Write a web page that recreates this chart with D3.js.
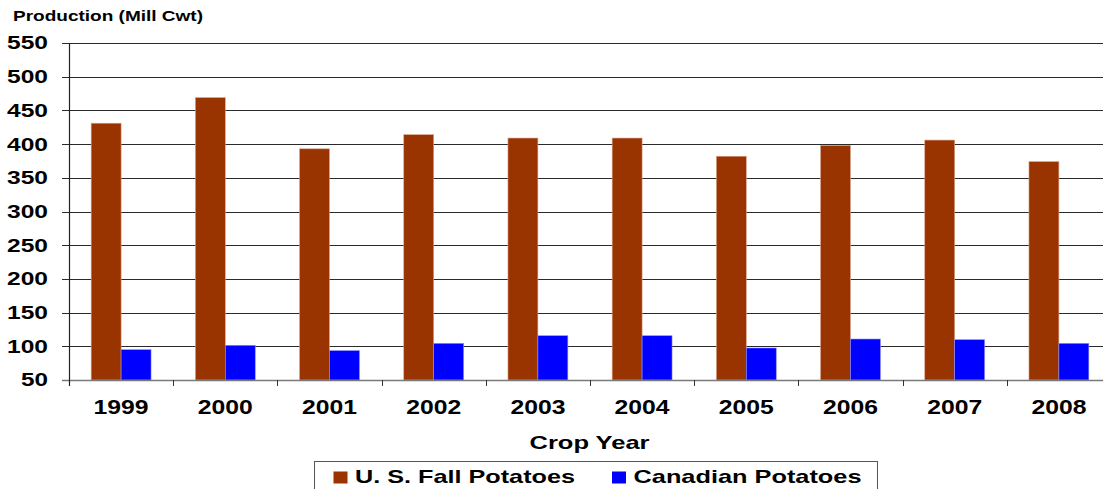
<!DOCTYPE html>
<html>
<head>
<meta charset="utf-8">
<script src="https://cdn.jsdelivr.net/npm/d3@7"></script>
<style>
body { margin: 0; background: #fff; }
svg { display: block; font-family: "Liberation Sans", Arial, sans-serif; font-weight: bold; }
</style>
</head>
<body>
<script>
var years = ["1999", "2000", "2001", "2002", "2003", "2004", "2005", "2006", "2007", "2008"];
var seriesNames = ["U. S. Fall Potatoes", "Canadian Potatoes"];
var usFall = [431, 469, 393, 414, 409, 409, 382, 398, 406, 374];
var canadian = [95, 101.5, 93.6, 104.4, 115.7, 115.7, 97.5, 110.8, 109.8, 104.4];
var yTicks = [50, 100, 150, 200, 250, 300, 350, 400, 450, 500, 550];
var colors = ["#993300", "#0000ff"];

var width = 1103, height = 489;
var svg = d3.select("body").append("svg").attr("width", width).attr("height", height);

var x0 = d3.scaleBand().domain(years).range([69, 1111]).padding(0);
var x1 = d3.scaleBand().domain(seriesNames).range([0, x0.bandwidth()]).paddingInner(0).paddingOuter(0.74);
var y = d3.scaleLinear().domain([50, 550]).range([380, 43]);

// gridlines + left ticks
svg.append("g")
    .selectAll("line")
    .data(yTicks.filter(function(d) { return d > 50; }))
    .enter().append("line")
    .attr("x1", 62).attr("x2", 1111)
    .attr("y1", function(d) { return Math.round(y(d)) + 0.5; })
    .attr("y2", function(d) { return Math.round(y(d)) + 0.5; })
    .attr("stroke", "#2a2a2a").attr("stroke-width", 1.2);

// bars
var rows = years.map(function(yr, i) { return { year: yr, values: [usFall[i], canadian[i]] }; });
var groups = svg.append("g").selectAll("g")
    .data(rows)
    .enter().append("g")
    .attr("transform", function(d) { return "translate(" + x0(d.year) + ",0)"; });
groups.selectAll("rect")
    .data(function(d) { return d.values.map(function(v, j) { return { name: seriesNames[j], value: v, j: j }; }); })
    .enter().append("rect")
    .attr("x", function(d) { return x1(d.name); })
    .attr("width", x1.bandwidth())
    .attr("y", function(d) { return y(d.value); })
    .attr("height", function(d) { return y(50) - y(d.value); })
    .attr("fill", function(d) { return colors[d.j]; })
    .attr("stroke", function(d) { return d.j === 0 ? "#d9a58c" : "#8c8cff"; })
    .attr("stroke-width", 0.6);

// bottom axis line and category ticks
svg.append("line")
    .attr("x1", 62).attr("x2", 1111).attr("y1", 380.5).attr("y2", 380.5)
    .attr("stroke", "#7a7a7a").attr("stroke-width", 1.6);
svg.append("g").selectAll("line")
    .data(years.slice(1))
    .enter().append("line")
    .attr("x1", function(d) { return Math.round(x0(d)) + 0.5; })
    .attr("x2", function(d) { return Math.round(x0(d)) + 0.5; })
    .attr("y1", 380).attr("y2", 386)
    .attr("stroke", "#333");
// left axis line
svg.append("line")
    .attr("x1", 69.5).attr("x2", 69.5).attr("y1", 43).attr("y2", 386)
    .attr("stroke", "#222").attr("stroke-width", 1.2);

// y labels
svg.append("g").selectAll("text")
    .data(yTicks)
    .enter().append("text")
    .attr("x", function(d) { return 49 - String(d).length * 14; })
    .attr("y", function(d) { return y(d); })
    .attr("dy", "0.36em")
    .attr("font-size", 17.8)
    .attr("textLength", function(d) { return String(d).length * 14 - 1; })
    .attr("lengthAdjust", "spacingAndGlyphs")
    .text(function(d) { return d; });

// x labels
svg.append("g").selectAll("text")
    .data(years)
    .enter().append("text")
    .attr("x", function(d) { return x0(d) + x0.bandwidth() / 2 - 27.5; })
    .attr("y", 414.3)
    .attr("font-size", 20)
    .attr("textLength", 55).attr("lengthAdjust", "spacingAndGlyphs")
    .text(function(d) { return d; });

// axis titles
svg.append("text")
    .attr("x", 13).attr("y", 20.7)
    .attr("font-size", 14.7)
    .attr("textLength", 190).attr("lengthAdjust", "spacingAndGlyphs")
    .text("Production (Mill Cwt)");
svg.append("text")
    .attr("x", 529.5).attr("y", 449.3)
    .attr("font-size", 18.6)
    .attr("textLength", 120).attr("lengthAdjust", "spacingAndGlyphs")
    .text("Crop Year");

// legend
var legend = svg.append("g");
legend.append("rect")
    .attr("x", 314.5).attr("y", 461.5).attr("width", 563).attr("height", 40)
    .attr("fill", "#fff").attr("stroke", "#555");
var legendPos = [{ sq: 333.5, tx: 355, len: 220 }, { sq: 612, tx: 633.5, len: 228 }];
legend.selectAll("g.item")
    .data(seriesNames)
    .enter().append("g")
    .attr("class", "item")
    .each(function(d, i) {
        var g = d3.select(this);
        g.append("rect")
            .attr("x", legendPos[i].sq).attr("y", 471.5)
            .attr("width", 14).attr("height", 12)
            .attr("fill", colors[i]);
        g.append("text")
            .attr("x", legendPos[i].tx).attr("y", 483.3)
            .attr("font-size", 18.6)
            .attr("textLength", legendPos[i].len).attr("lengthAdjust", "spacingAndGlyphs")
            .text(d);
    });
</script>
</body>
</html>
